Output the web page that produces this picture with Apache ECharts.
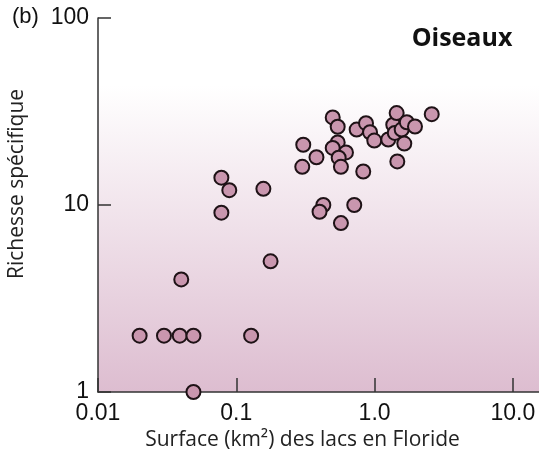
<!DOCTYPE html>
<html>
<head>
<meta charset="utf-8">
<script src="https://cdn.jsdelivr.net/npm/echarts@6/dist/echarts.min.js"></script>
<style>html,body{margin:0;padding:0;background:#fff;}#c{width:539px;height:456px;}</style>
</head>
<body>
<div id="c"></div>
<script>
// Surface des lacs (km²)
const area = [0.02, 0.03, 0.039, 0.049, 0.04, 0.049, 0.128, 0.078, 0.089, 0.078,
  0.157, 0.177, 0.305, 0.30, 0.38, 0.426, 0.40, 0.498, 0.541, 0.742,
  0.867, 0.927, 0.995, 0.541, 0.498, 0.621, 0.55, 0.571, 0.828, 1.256,
  1.365, 1.444, 1.40, 1.57, 1.71, 1.96, 1.64, 1.46, 2.59, 0.713, 0.571];
// Richesse spécifique (oiseaux)
const richness = [2, 2, 2, 2, 4, 1, 2, 14, 12, 9.1,
  12.2, 5, 21, 16, 18, 10, 9.2, 29.4, 26.2, 25.3,
  27.4, 24.5, 22.1, 21.6, 20.2, 19.1, 17.9, 16, 15.1, 22.4,
  26.9, 31, 24.3, 25.3, 27.7, 26.3, 21.3, 17.1, 30.6, 10, 8];
const xTicks = [0.01, 0.1, 1, 10];
const xTickLabels = ['0.01', '0.1', '1.0', '10.0'];
const yTicks = [1, 10, 100];
const yTickLabels = ['1', '10', '100'];

const points = area.map((a, i) => [a, richness[i]]);
const chart = echarts.init(document.getElementById('c'), null, {renderer: 'canvas'});
const labelFont = {fontFamily: 'Liberation Sans', fontSize: 23, color: '#111'};
chart.setOption({
  animation: false,
  grid: {
    left: 98, top: 18, right: 0, bottom: 63,
    show: true, borderWidth: 0,
    backgroundColor: new echarts.graphic.LinearGradient(0, 0, 0, 1, [
      {offset: 0, color: '#ffffff'},
      {offset: 0.18, color: '#ffffff'},
      {offset: 1, color: '#ddbdd0'}
    ])
  },
  xAxis: {
    type: 'log', logBase: 10, min: 0.01, max: 15.45,
    axisLine: {lineStyle: {color: '#333', width: 1.5}},
    axisTick: {inside: true, length: 14, lineStyle: {color: '#333', width: 1.5}, customValues: xTicks},
    splitLine: {show: false},
    axisLabel: Object.assign({margin: 10, customValues: xTicks,
      formatter: v => { const i = xTicks.findIndex(t => Math.abs(t - v) / t < 1e-6); return i >= 0 ? xTickLabels[i] : ''; }
    }, labelFont),
    name: 'Surface (km²) des lacs en Floride',
    nameLocation: 'middle', nameGap: 38,
    nameTextStyle: {fontFamily: 'Open Sans', fontSize: 21, color: '#222', padding: [0, 32, 0, 0]}
  },
  yAxis: {
    type: 'log', logBase: 10, min: 1, max: 100,
    axisLine: {lineStyle: {color: '#333', width: 1.5}},
    axisTick: {inside: true, length: 13, lineStyle: {color: '#333', width: 1.5}, customValues: yTicks},
    splitLine: {show: false},
    axisLabel: Object.assign({margin: 9, customValues: yTicks,
      formatter: v => { const i = yTicks.findIndex(t => Math.abs(t - v) / t < 1e-6); return i >= 0 ? yTickLabels[i] : ''; }
    }, labelFont)
  },
  graphic: [
    {type: 'text', left: 12, top: 6, style: {text: '(b)', font: '22px "Liberation Sans"', fill: '#111'}},
    {type: 'text', x: 17, y: 184, rotation: Math.PI / 2,
      style: {text: 'Richesse spécifique', font: '21px "Open Sans"', fill: '#222', align: 'center', verticalAlign: 'middle'}},
    {type: 'text', x: 462, y: 39,
      style: {text: 'Oiseaux', font: 'bold 25px "Open Sans"', fill: '#111', align: 'center', verticalAlign: 'middle'}}
  ],
  series: [{
    type: 'scatter',
    data: points,
    symbol: 'circle',
    symbolSize: 14,
    itemStyle: {color: '#c996ae', borderColor: '#1e1216', borderWidth: 2, opacity: 1}
  }]
});
</script>
</body>
</html>
